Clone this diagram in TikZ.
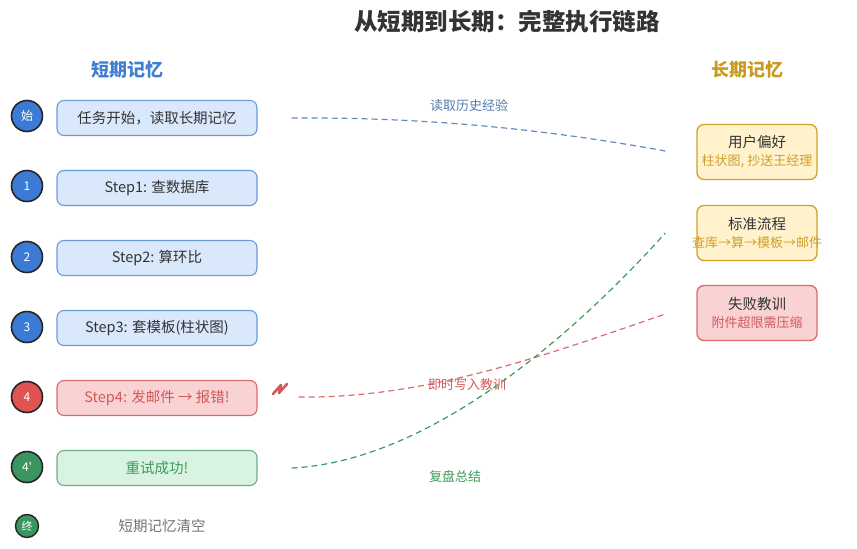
\documentclass[tikz,border=0pt]{standalone}
\usepackage{fontspec}
\setmainfont{Noto Sans CJK SC}
\begin{document}
\begin{tikzpicture}[x=1pt,y=-1pt,
  every node/.style={inner sep=0pt},
  stepbox/.style={draw, rounded corners=7pt, line width=1.1pt, minimum width=200pt, minimum height=35pt, font=\fontsize{14.5}{16}\selectfont},
  bluebox/.style={stepbox, fill=bfill, draw=bdraw, text=txt},
  redbox/.style={stepbox, fill=rfill, draw=rdraw, text=rtext},
  greenbox/.style={stepbox, fill=gfill, draw=gdraw, text=gtext},
  num/.style={circle, draw=black!85, line width=1.6pt, minimum size=31pt, text=white, font=\fontsize{12}{14}\selectfont},
  ltm/.style={draw, rounded corners=7pt, line width=1.3pt, minimum width=120pt, minimum height=55pt, align=center, font=\fontsize{14.5}{19}\selectfont, text=txt},
  link/.style={dashed, dash pattern=on 6pt off 4pt, line width=1.2pt},
  lbl/.style={font=\fontsize{13}{15}\selectfont}
]
\definecolor{bfill}{HTML}{DAE8FC}\definecolor{bdraw}{HTML}{6C9AD8}
\definecolor{rfill}{HTML}{F9D3D3}\definecolor{rdraw}{HTML}{DB6B6B}\definecolor{rtext}{HTML}{D05A5A}
\definecolor{gfill}{HTML}{D8F3E2}\definecolor{gdraw}{HTML}{6DAF84}\definecolor{gtext}{HTML}{3E9A5A}
\definecolor{yfill}{HTML}{FFF2CC}\definecolor{ydraw}{HTML}{CFA22E}\definecolor{ytext}{HTML}{D1A02A}
\definecolor{txt}{HTML}{333333}
\definecolor{cblue}{HTML}{3B7BD6}\definecolor{cred}{HTML}{E05353}\definecolor{cgreen}{HTML}{3A9560}
\definecolor{hblue}{HTML}{3F7FD0}\definecolor{hgold}{HTML}{C99A1E}
\useasboundingbox (0,0) rectangle (857,549);

\node[font=\bfseries\fontsize{23.5}{27}\selectfont, text=txt] (title) at (507,22) {从短期到长期：完整执行链路};
\node[font=\bfseries\fontsize{18}{21}\selectfont, text=hblue] (hs) at (127,70) {短期记忆};
\node[font=\bfseries\fontsize{18}{21}\selectfont, text=hgold] (hl) at (747,70) {长期记忆};

% circles
\node[num, fill=cblue] (c0) at (27,116) {始};
\node[num, fill=cblue] (c1) at (27,186) {1};
\node[num, fill=cblue] (c2) at (27,257) {2};
\node[num, fill=cblue] (c3) at (27,327) {3};
\node[num, fill=cred] (c4) at (27,397) {4};
\node[num, fill=cgreen] (c5) at (27,467) {4\textquotesingle};
\node[num, fill=cgreen, minimum size=23pt, line width=1.4pt, font=\fontsize{11}{13}\selectfont] (c6) at (27,526) {终};

% boxes
\node[bluebox] (b0) at (157,118) {任务开始，读取长期记忆};
\node[bluebox] (b1) at (157,188) {Step1: 查数据库};
\node[bluebox] (b2) at (157,258) {Step2: 算环比};
\node[bluebox] (b3) at (157,328) {Step3: 套模板(柱状图)};
\node[redbox] (b4) at (157,398) {Step4: 发邮件 → 报错!};
\node[greenbox] (b5) at (157,468) {重试成功!};
\node[font=\fontsize{14.5}{16}\selectfont, text=black!55] (b6) at (162,526) {短期记忆清空};

% long-term boxes
\node[ltm, fill=yfill, draw=ydraw] (r1) at (757,152) {用户偏好\\[-1pt]{\color{ytext}\fontsize{13}{15}\selectfont\makebox[0pt]{柱状图, 抄送王经理}}};
\node[ltm, fill=yfill, draw=ydraw] (r2) at (757,233) {标准流程\\[-1pt]{\color{ytext}\fontsize{13}{15}\selectfont\makebox[0pt]{查库→算→模板→邮件}}};
\node[ltm, fill=rfill, draw=rdraw] (r3) at (757,313) {失败教训\\[-1pt]{\color{rtext}\fontsize{13}{15}\selectfont\makebox[0pt]{附件超限需压缩}}};

% links
\draw[link, draw=bdraw!90!black] ([xshift=34pt]b0.east) .. controls (440,117) and (560,132) .. ([xshift=-31pt,yshift=1pt]r1.west);
\node[lbl, text=bdraw!80!black] (l1) at (469,106) {读取历史经验};

\draw[link, draw=rdraw] ([xshift=41pt,yshift=1pt]b4.east) .. controls (430,399) and (560,350) .. ([xshift=-31pt,yshift=-1pt]r3.west);
\node[lbl, text=rtext] (l2) at (467,385) {即时写入教训};

\draw[link, draw=gtext] ([xshift=34pt]b5.east) .. controls (420,462) and (560,350) .. ([xshift=-31pt]r2.west);
\node[lbl, text=gtext] (l3) at (455,476) {复盘总结};

% lightning
\draw[draw=rtext, line width=2.6pt, line join=round, line cap=round] (273,394) -- (281,385) -- (279,393) -- (287,384);
\end{tikzpicture}
\end{document}
